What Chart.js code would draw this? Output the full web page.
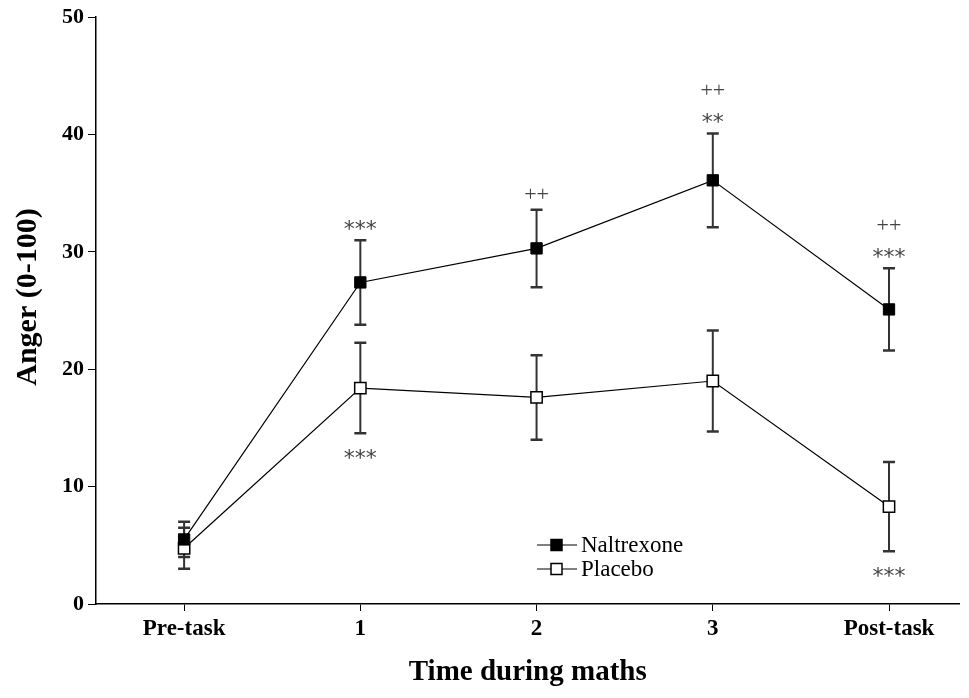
<!DOCTYPE html>
<html>
<head>
<meta charset="utf-8">
<title>Anger during maths task</title>
<script src="https://cdn.jsdelivr.net/npm/chart.js@4.4.1/dist/chart.umd.min.js"></script>
<style>
  html, body { margin: 0; padding: 0; background: #fff; }
  #wrap { width: 969px; height: 698px; position: relative; }
</style>
</head>
<body>
<div id="wrap"><canvas id="angerChart"></canvas></div>
<script>
// time points along the x axis
const timeLabels = ['Pre-task', '1', '2', '3', 'Post-task'];

// mean anger ratings (0-100) and their error bars
const naltrexoneMean = [5.5, 27.4, 30.3, 36.1, 25.1];
const naltrexoneErr = [1.5, 3.6, 3.3, 4.0, 3.5];
const placeboMean = [4.75, 18.4, 17.6, 19.0, 8.3];
const placeboErr = [1.75, 3.85, 3.6, 4.3, 3.8];

// significance marks
const naltrexoneStars = ['', '***', '', '**', '***'];
const naltrexonePlus = ['', '', '++', '++', '++'];
const placeboStars = ['', '***', '', '', '***'];

const yTicks = [0, 10, 20, 30, 40, 50];

const toPoints = (arr) => arr.map((v, i) => ({ x: i, y: v }));

// draws the mean +/- error bars under the lines and markers
const errorBars = {
  id: 'errorBars',
  beforeDatasetsDraw(chart) {
    const { ctx, scales: { x, y } } = chart;
    const sets = [[naltrexoneMean, naltrexoneErr], [placeboMean, placeboErr]];
    ctx.save();
    ctx.strokeStyle = '#333';
    sets.forEach(([means, errs]) => {
      means.forEach((m, i) => {
        const px = x.getPixelForValue(i);
        const top = y.getPixelForValue(m + errs[i]);
        const bot = y.getPixelForValue(m - errs[i]);
        ctx.lineWidth = 2;
        ctx.beginPath();
        ctx.moveTo(px, top);
        ctx.lineTo(px, bot);
        ctx.stroke();
        ctx.lineWidth = 2.5;
        ctx.beginPath();
        ctx.moveTo(px - 6, top);
        ctx.lineTo(px + 6, top);
        ctx.moveTo(px - 6, bot);
        ctx.lineTo(px + 6, bot);
        ctx.stroke();
      });
    });
    ctx.restore();
  }
};

// asterisks / plus signs above and below the error bars
const sigMarks = {
  id: 'sigMarks',
  afterDatasetsDraw(chart) {
    const { ctx, scales: { x, y } } = chart;
    ctx.save();
    ctx.textAlign = 'center';
    ctx.textBaseline = 'middle';
    naltrexoneMean.forEach((m, i) => {
      const px = x.getPixelForValue(i);
      let py = y.getPixelForValue(m + naltrexoneErr[i]);
      if (naltrexoneStars[i]) {
        py -= 15;
        ctx.fillStyle = '#444';
        ctx.font = '22px "DejaVu Sans"';
        ctx.fillText(naltrexoneStars[i], px, py + 5);
        py -= 13;
      }
      if (naltrexonePlus[i]) {
        py -= 14;
        ctx.fillStyle = '#444';
        ctx.font = '22px "Liberation Serif"';
        ctx.fillText(naltrexonePlus[i], px, py);
      }
    });
    placeboMean.forEach((m, i) => {
      if (!placeboStars[i]) return;
      const px = x.getPixelForValue(i);
      const py = y.getPixelForValue(m - placeboErr[i]) + 21;
      ctx.fillStyle = '#444';
      ctx.font = '22px "DejaVu Sans"';
      ctx.fillText(placeboStars[i], px, py + 5);
    });
    ctx.restore();
  }
};

// legend with line + marker samples, y axis title
const extras = {
  id: 'extras',
  afterDraw(chart) {
    const { ctx } = chart;
    ctx.save();
    const items = [
      { label: 'Naltrexone', fill: '#000' },
      { label: 'Placebo', fill: '#fff' }
    ];
    items.forEach((it, k) => {
      const ly = 545 + k * 24;
      ctx.strokeStyle = '#000';
      ctx.lineWidth = 1.2;
      ctx.beginPath();
      ctx.moveTo(537, ly);
      ctx.lineTo(577, ly);
      ctx.stroke();
      ctx.fillStyle = it.fill;
      ctx.fillRect(551, ly - 5.5, 11, 11);
      ctx.lineWidth = 1.5;
      ctx.strokeRect(551, ly - 5.5, 11, 11);
      ctx.fillStyle = '#000';
      ctx.font = '23px "Liberation Serif"';
      ctx.textAlign = 'left';
      ctx.textBaseline = 'middle';
      ctx.fillText(it.label, 581, ly + 1);
    });

    ctx.translate(28, 297);
    ctx.rotate(-Math.PI / 2);
    ctx.textAlign = 'center';
    ctx.textBaseline = 'middle';
    ctx.font = 'bold 30px "Liberation Serif"';
    ctx.fillText('Anger (0-100)', 0, 0);
    ctx.restore();
  }
};

const ctx = document.getElementById('angerChart').getContext('2d');
new Chart(ctx, {
  type: 'scatter',
  data: {
    datasets: [
      {
        label: 'Naltrexone',
        data: toPoints(naltrexoneMean),
        showLine: true,
        borderColor: '#000',
        borderWidth: 1.2,
        backgroundColor: '#000',
        pointStyle: 'rect',
        pointRadius: 8,
        pointBorderWidth: 1,
        pointBorderColor: '#000',
        pointBackgroundColor: '#000'
      },
      {
        label: 'Placebo',
        data: toPoints(placeboMean),
        showLine: true,
        borderColor: '#000',
        borderWidth: 1.2,
        backgroundColor: '#fff',
        pointStyle: 'rect',
        pointRadius: 8,
        pointBorderWidth: 1.5,
        pointBorderColor: '#000',
        pointBackgroundColor: '#fff'
      }
    ]
  },
  options: {
    responsive: true,
    maintainAspectRatio: false,
    animation: false,
    layout: { padding: { top: 17, left: 0, right: 0, bottom: 0 } },
    plugins: {
      legend: { display: false },
      tooltip: { enabled: false }
    },
    scales: {
      x: {
        type: 'linear',
        min: -0.5,
        max: 4.4,
        afterBuildTicks: (axis) => {
          axis.ticks = timeLabels.map((_, i) => ({ value: i }));
        },
        afterFit: (axis) => { axis.height = 94; },
        grid: { drawOnChartArea: false, drawTicks: true, tickLength: 7, color: '#000', lineWidth: 1 },
        border: { display: true, color: '#000', width: 1.5 },
        ticks: {
          autoSkip: false,
          maxRotation: 0,
          padding: 4,
          color: '#000',
          font: { family: 'Liberation Serif', size: 23, weight: 'bold' },
          callback: (v) => timeLabels[v]
        },
        title: {
          display: true,
          text: 'Time during maths',
          color: '#000',
          font: { family: 'Liberation Serif', size: 29, weight: 'bold' },
          padding: { top: 0, bottom: 8 }
        }
      },
      y: {
        min: 0,
        max: 50,
        afterBuildTicks: (axis) => {
          axis.ticks = yTicks.map((v) => ({ value: v }));
        },
        afterFit: (axis) => { axis.width = 96; },
        grid: { drawOnChartArea: false, drawTicks: true, tickLength: 8, color: '#000', lineWidth: 1 },
        border: { display: true, color: '#000', width: 1.5 },
        ticks: {
          padding: 4,
          color: '#000',
          font: { family: 'Liberation Serif', size: 22, weight: 'bold' }
        }
      }
    }
  },
  plugins: [errorBars, sigMarks, extras]
});
</script>
</body>
</html>
